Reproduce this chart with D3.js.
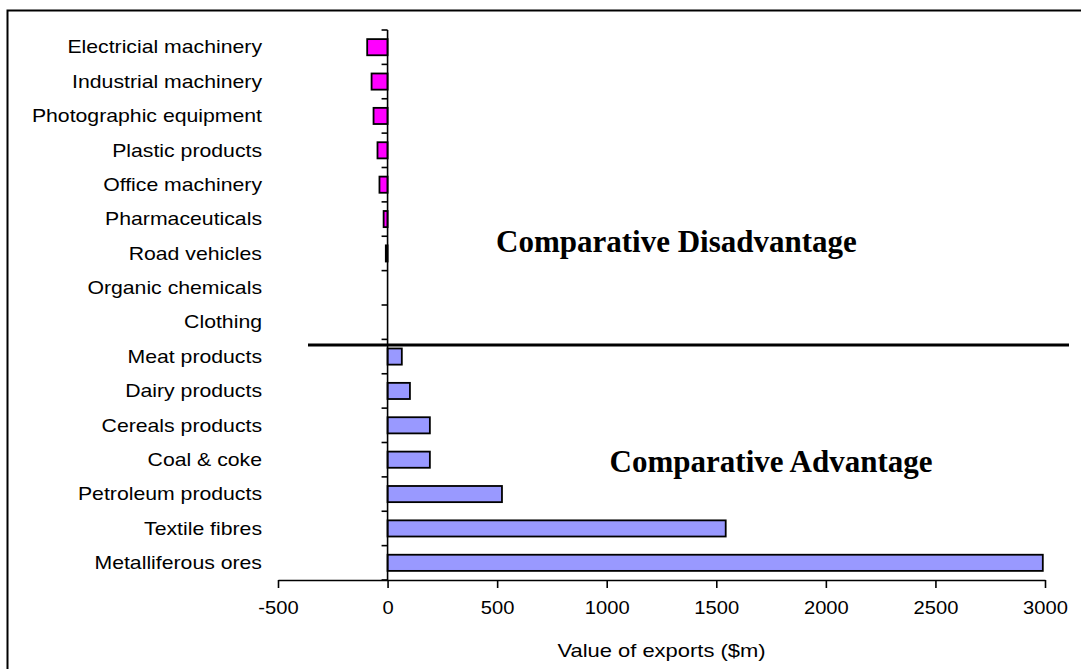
<!DOCTYPE html>
<html><head><meta charset="utf-8">
<script src="https://cdn.jsdelivr.net/npm/d3@7"></script>
<style>html,body{margin:0;padding:0;background:#fff;overflow:hidden}</style>
</head><body>
<svg id="chart" width="1081" height="669"></svg>
<script>
const categories = ["Electricial machinery","Industrial machinery","Photographic equipment","Plastic products","Office machinery","Pharmaceuticals","Road vehicles","Organic chemicals","Clothing","Meat products","Dairy products","Cereals products","Coal & coke","Petroleum products","Textile fibres","Metalliferous ores"];
const values = [-93,-73,-64,-46,-37,-18,-8,0,0,65,102,193,193,522,1543,2990];
const xTicks = [-500,0,500,1000,1500,2000,2500,3000];
const annotationTexts = ["Comparative Disadvantage","Comparative Advantage"];
const annotationCats = ["Road vehicles","Coal & coke"];
const annotationValues = [1318,1750];

const FONT = "Liberation Sans, Arial, sans-serif";
const svg = d3.select("#chart");
// frame
svg.append("path").attr("d","M7.5,700 V10.5 H1100").attr("fill","none").attr("stroke","#000").attr("stroke-width",2);

const x = d3.scaleLinear().domain([-500,3000]).range([278,1045]);
const y = d3.scaleBand().domain(categories).range([30,580]).paddingInner(0.53).paddingOuter(0.265);

// bars
svg.append("g").selectAll("rect").data(categories.map((c,i)=>({c,v:values[i]}))).join("rect")
  .attr("x",d=>x(Math.min(0,d.v))).attr("width",d=>Math.abs(x(d.v)-x(0)))
  .attr("y",d=>y(d.c)).attr("height",y.bandwidth())
  .attr("fill",d=>d.v<0?"#ff00ff":"#9999ff").attr("stroke","#000").attr("stroke-width",d=>d.v===0?0:1.8);

// y axis
const yAxis = svg.append("g").attr("transform",`translate(${x(0)},0)`);
yAxis.append("line").attr("x1",0).attr("x2",0).attr("y1",30).attr("y2",580).attr("stroke","#000").attr("stroke-width",1.6);
const n = categories.length;
yAxis.selectAll("line.tk").data(d3.range(n+1)).join("line").attr("class","tk")
  .attr("x1",-6).attr("x2",0).attr("y1",i=>30+i*(550/n)).attr("y2",i=>30+i*(550/n))
  .attr("stroke","#000").attr("stroke-width",1.6);
svg.append("g").selectAll("text").data(categories).join("text")
  .attr("transform",d=>`translate(262,${y(d)+y.bandwidth()/2}) scale(1.18,1)`)
  .attr("dy","0.35em").attr("text-anchor","end")
  .attr("font-family",FONT).attr("font-size",18).text(d=>d);

// x axis
const xg = svg.append("g").attr("transform","translate(0,580)");
xg.call(d3.axisBottom(x).tickValues(xTicks).tickSize(8).tickSizeOuter(0).tickPadding(13).tickFormat(d=>String(d)));
xg.select(".domain").attr("stroke-width",1.6);
xg.selectAll(".tick line").attr("stroke-width",1.6);
xg.selectAll("text").attr("font-family",FONT).attr("font-size",18).attr("fill","#000").attr("transform","scale(1.12,1)");
svg.append("text").attr("transform",`translate(${x(1250)},657) scale(1.22,1)`).attr("text-anchor","middle")
  .attr("font-family",FONT).attr("font-size",18).text("Value of exports ($m)");

// separator between disadvantage and advantage
svg.append("line").attr("x1",308).attr("x2",1069).attr("y1",345).attr("y2",345).attr("stroke","#000").attr("stroke-width",3);

// annotations
const offs = [-1,12];
svg.append("g").selectAll("text").data(annotationTexts).join("text")
  .attr("x",(d,i)=>x(annotationValues[i])).attr("y",(d,i)=>y(annotationCats[i])+y.bandwidth()/2+offs[i]).attr("text-anchor","middle")
  .attr("font-family","Liberation Serif, Times New Roman, serif").attr("font-weight","bold").attr("font-size",31).text(d=>d);
</script>
</body></html>
